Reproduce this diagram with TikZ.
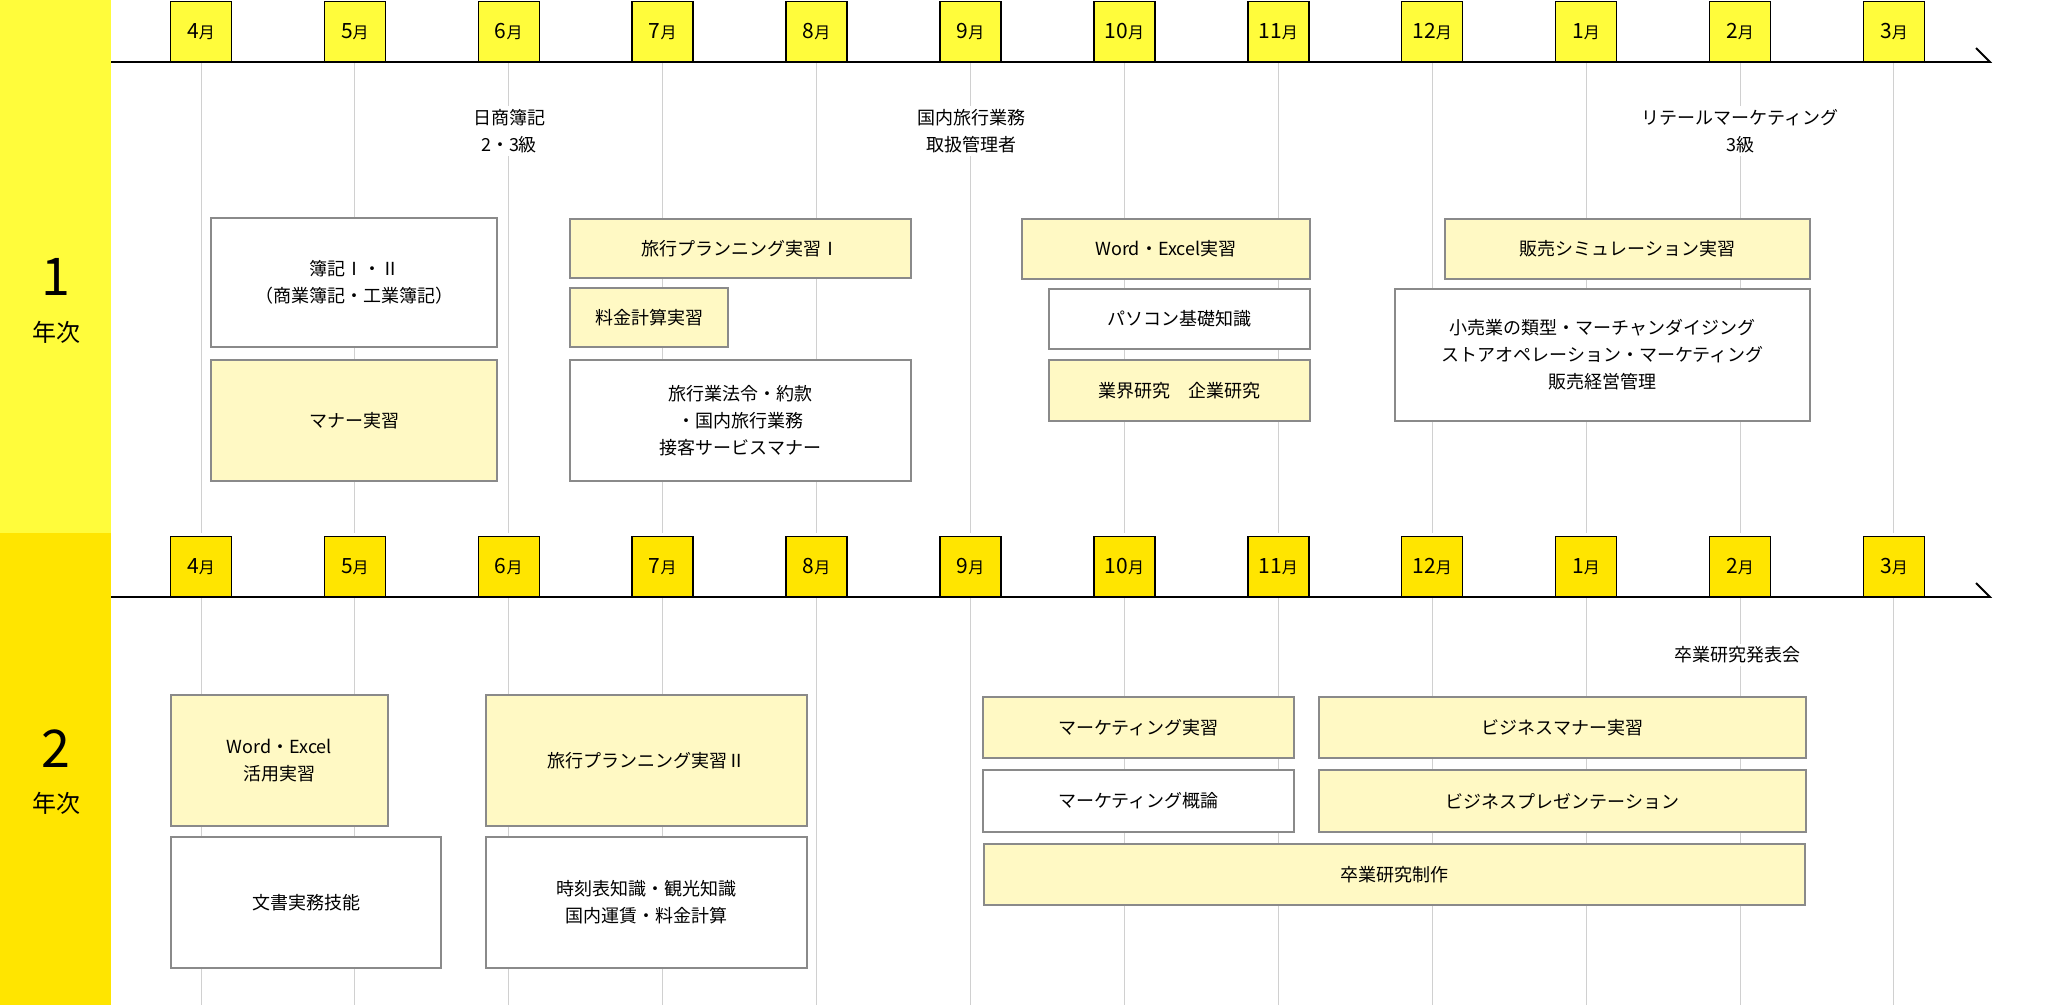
\documentclass[tikz,border=0pt]{standalone}
\usepackage{fontspec}
\setmainfont{Noto Sans CJK JP}
\definecolor{yA}{HTML}{FFFC3B}
\definecolor{yB}{HTML}{FFE500}
\definecolor{boxy}{HTML}{FFF9C4}
\definecolor{bord}{HTML}{8A8A8A}
\definecolor{grid}{HTML}{D0D0D0}
\tikzset{
  mon/.style={draw=black,line width=1.5pt,minimum width=61pt,minimum height=60pt,anchor=south,inner sep=0pt},
  crs/.style={draw=bord,line width=1.8pt,inner sep=0pt,align=center,font=\fontsize{18}{27}\selectfont},
  crsy/.style={crs,fill=boxy},
  crsw/.style={crs,fill=white},
  lbl/.style={fill=white,align=center,inner sep=3pt,font=\fontsize{18}{27}\selectfont},
}
\begin{document}
\begin{tikzpicture}[x=1pt,y=-1pt]
\useasboundingbox (0,0) rectangle (2072,1005);
\fill[yA] (0,0) rectangle (111,533);
\fill[yB] (0,533) rectangle (111,1005);
\node[font=\fontsize{52}{52}\selectfont\addfontfeature{FakeBold=0}] (y1n) at (56,277) {1};
\node[font=\fontsize{24}{24}\selectfont] (y1t) at (56,332) {年次};
\node[font=\fontsize{52}{52}\selectfont] (y2n) at (56,749) {2};
\node[font=\fontsize{24}{24}\selectfont] (y2t) at (56,803) {年次};
% grid lines
\foreach \i in {0,...,11}{
  \draw[grid,line width=1pt] ({201+153.9*\i},62) -- ({201+153.9*\i},533);
  \draw[grid,line width=1pt] ({201+153.9*\i},597) -- ({201+153.9*\i},1005);
}
% axes
\coordinate (a1s) at (111,62); \coordinate (a1e) at (1990,62); \coordinate (a1t) at (1976,48);
\coordinate (a2s) at (111,597); \coordinate (a2e) at (1990,597); \coordinate (a2t) at (1976,583);
\draw[line width=1.8pt] (a1s) -- (a1e) -- (a1t);
\draw[line width=1.8pt] (a2s) -- (a2e) -- (a2t);
\foreach \m [count=\i from 0] in {4,5,6,7,8,9,10,11,12,1,2,3}{
  \node[mon,fill=yA] (m1-\i) at ({201+153.9*\i},62) {{\fontsize{21}{21}\selectfont\m}{\fontsize{16}{16}\selectfont 月}};
  \node[mon,fill=yB] (m2-\i) at ({201+153.9*\i},597) {{\fontsize{21}{21}\selectfont\m}{\fontsize{16}{16}\selectfont 月}};
}
% labels
\node[lbl] (l1) at (509,131) {日商簿記\\2・3級};
\node[lbl] (l2) at (971,131) {国内旅行業務\\取扱管理者};
\node[lbl] (l3) at (1740,131) {リテールマーケティング\\3級};
\node[lbl] (l4) at (1737,655) {卒業研究発表会};
% year 1 boxes
\node[crsw,minimum width=286pt,minimum height=129pt] (b1) at (354,282.5) {簿記Ⅰ・Ⅱ\\（商業簿記・工業簿記）};
\node[crsy,minimum width=286pt,minimum height=121pt] (b2) at (354,420.5) {マナー実習};
\node[crsy,minimum width=341pt,minimum height=59pt] (b3) at (740.5,248.5) {旅行プランニング実習Ⅰ};
\node[crsy,minimum width=158pt,minimum height=59pt] (b4) at (649,317.5) {料金計算実習};
\node[crsw,minimum width=341pt,minimum height=121pt] (b5) at (740.5,420.5) {旅行業法令・約款\\・国内旅行業務\\接客サービスマナー};
\node[crsy,minimum width=288pt,minimum height=60pt] (b6) at (1166,249) {Word・Excel実習};
\node[crsw,minimum width=261pt,minimum height=60pt] (b7) at (1179.5,319) {パソコン基礎知識};
\node[crsy,minimum width=261pt,minimum height=61pt] (b8) at (1179.5,390.5) {業界研究　企業研究};
\node[crsy,minimum width=365pt,minimum height=60pt] (b9) at (1627.5,249) {販売シミュレーション実習};
\node[crsw,minimum width=415pt,minimum height=132pt] (b10) at (1602.5,355) {小売業の類型・マーチャンダイジング\\ストアオペレーション・マーケティング\\販売経営管理};
% year 2 boxes
\node[crsy,minimum width=217pt,minimum height=131pt] (c1) at (279.5,760.5) {Word・Excel\\活用実習};
\node[crsw,minimum width=270pt,minimum height=131pt] (c2) at (306,902.5) {文書実務技能};
\node[crsy,minimum width=321pt,minimum height=131pt] (c3) at (646.5,760.5) {旅行プランニング実習Ⅱ};
\node[crsw,minimum width=321pt,minimum height=131pt] (c4) at (646.5,902.5) {時刻表知識・観光知識\\国内運賃・料金計算};
\node[crsy,minimum width=311pt,minimum height=61pt] (c5) at (1138.5,727.5) {マーケティング実習};
\node[crsw,minimum width=311pt,minimum height=62pt] (c6) at (1138.5,801) {マーケティング概論};
\node[crsy,minimum width=487pt,minimum height=61pt] (c7) at (1562.5,727.5) {ビジネスマナー実習};
\node[crsy,minimum width=487pt,minimum height=62pt] (c8) at (1562.5,801) {ビジネスプレゼンテーション};
\node[crsy,minimum width=821pt,minimum height=61pt] (c9) at (1394.5,874.5) {卒業研究制作};
\end{tikzpicture}
\end{document}
